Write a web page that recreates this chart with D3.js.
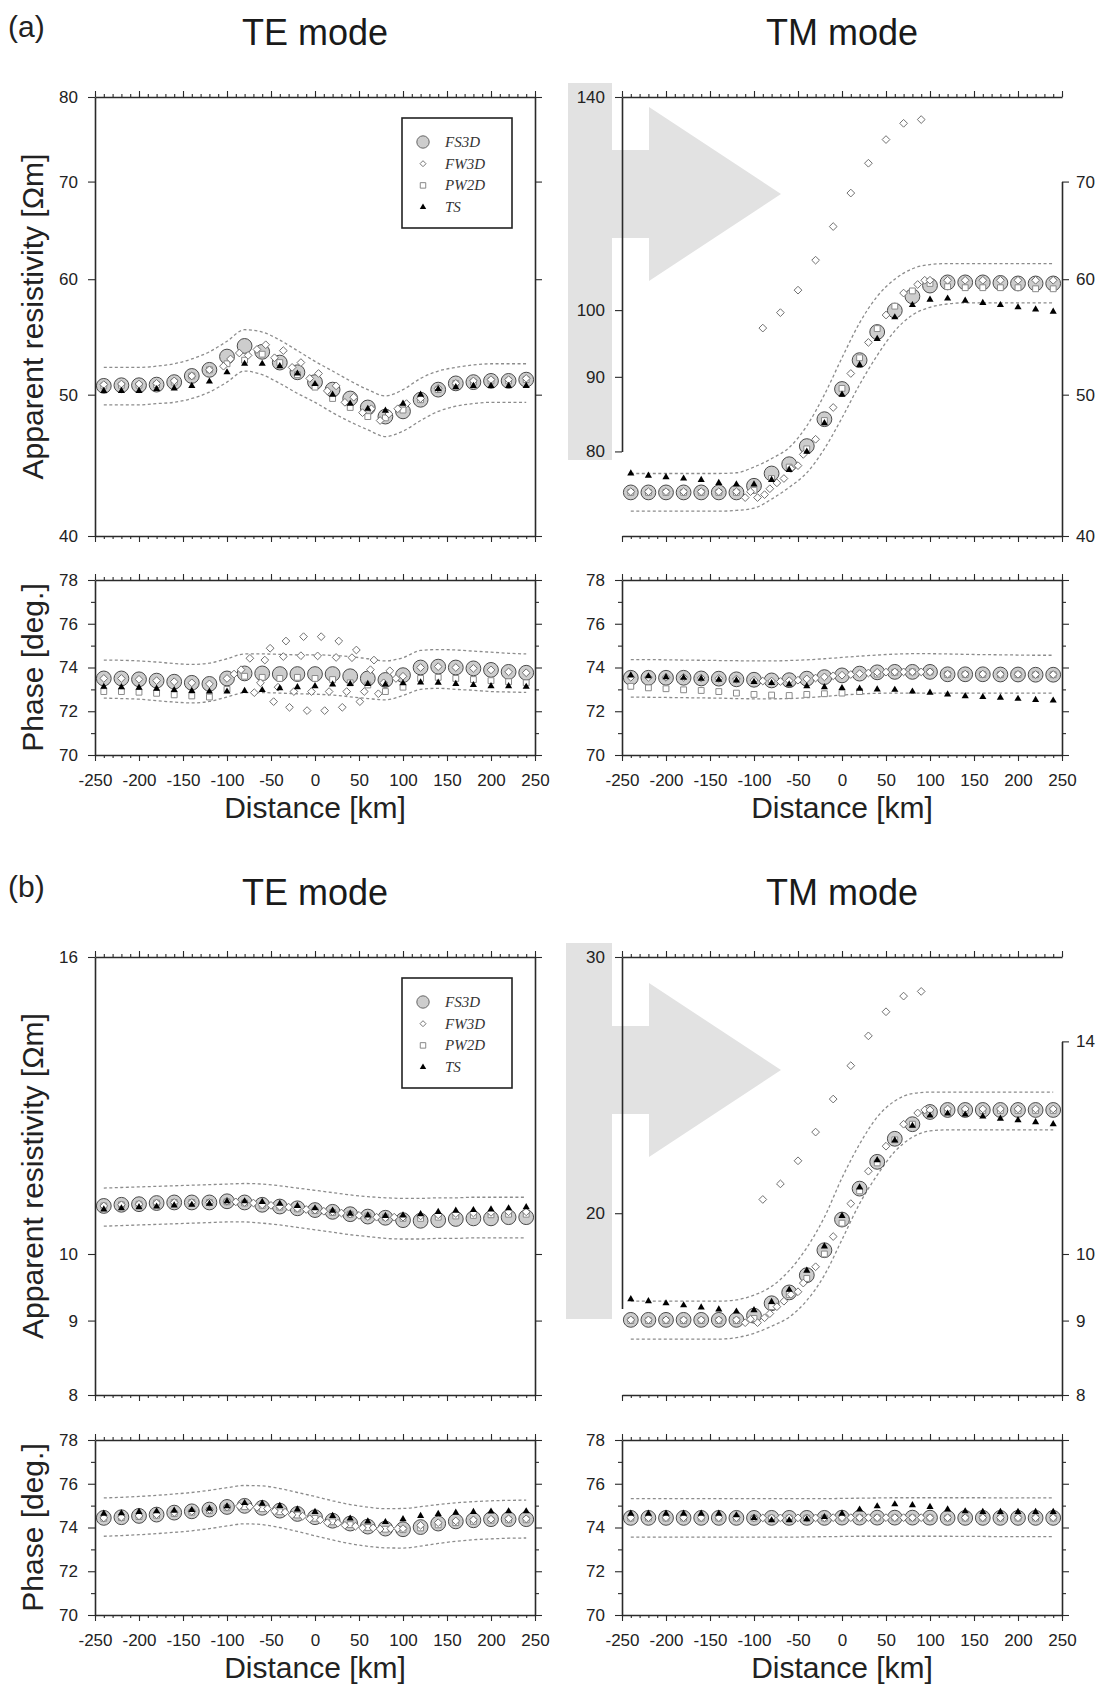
<!DOCTYPE html>
<html>
<head>
<meta charset="utf-8">
<script src="https://cdn.jsdelivr.net/npm/d3@7/dist/d3.min.js"></script>
<style>
  html, body { margin: 0; padding: 0; background: #fff; }
  svg { display: block; }
</style>
</head>
<body>
<svg id="fig" width="1102" height="1687"></svg>
<script>
// site positions along the profile (km)
const sites = [-240, -220, -200, -180, -160, -140, -120, -100, -80, -60, -40, -20, 0, 20, 40, 60, 80, 100, 120, 140, 160, 180, 200, 220, 240];
// sites whose FW3D TM value is read on the grey left axis
const highSites = [-90, -70, -50, -30, -10, 10, 30, 50, 70, 90];
const xMajor = [-250, -200, -150, -100, -50, 0, 50, 100, 150, 200, 250];
const xMinor = d3.range(-250, 251, 10);
const phaseMajor = [70, 72, 74, 76, 78];
const phaseMinor = [71, 73, 75, 77];

// ---------- (a) TE mode ----------
const aTErhoFS3D = [50.7, 50.75, 50.75, 50.8, 51.0, 51.5, 52.0, 53.1, 54.0, 53.5, 52.6, 51.8, 51.0, 50.4, 49.7, 49.0, 48.3, 48.7, 49.6, 50.4, 50.9, 51.0, 51.1, 51.1, 51.2];
const aTErhoPW2D = [50.7, 50.75, 50.75, 50.8, 51.0, 51.5, 52.0, 52.5, 52.8, 53.3, 52.6, 51.6, 50.6, 49.7, 49.0, 48.3, 48.2, 48.8, 49.6, 50.4, 50.9, 51.0, 51.1, 51.1, 51.2];
const aTErhoTS = [50.3, 50.3, 50.3, 50.45, 50.5, 50.7, 51.05, 51.8, 52.5, 52.5, 52.3, 51.7, 50.85, 50.0, 49.3, 48.9, 48.75, 49.3, 50.0, 50.45, 50.6, 50.7, 50.7, 50.7, 50.7];
const aTErhoFW3D = [[-240, 50.8], [-220, 50.85], [-200, 50.85], [-180, 50.9], [-160, 51.1], [-140, 51.5], [-120, 52.0],
  [-104, 52.3], [-96, 52.9], [-86, 53.4], [-76, 53.2], [-66, 53.7], [-56, 54.1], [-46, 53.0], [-36, 53.6], [-26, 52.2], [-16, 52.6],
  [-6, 51.3], [4, 51.7], [14, 50.3], [24, 50.7], [34, 49.4], [44, 49.8], [54, 48.6], [64, 48.9], [74, 48.0], [84, 48.5], [94, 48.9], [104, 49.3],
  [120, 49.7], [140, 50.5], [160, 50.9], [180, 51.1], [200, 51.2], [220, 51.2], [240, 51.3]];
const aTErhoUpper = [52.2, 52.2, 52.2, 52.3, 52.5, 52.9, 53.5, 54.4, 55.4, 55.2, 54.5, 53.6, 52.7, 51.9, 51.1, 50.4, 49.9, 50.4, 51.3, 51.9, 52.2, 52.4, 52.5, 52.5, 52.5];
const aTErhoLower = [49.2, 49.2, 49.2, 49.3, 49.4, 49.7, 50.2, 51.0, 51.9, 51.6, 50.9, 50.1, 49.4, 48.6, 47.9, 47.3, 46.8, 47.2, 48.0, 48.7, 49.1, 49.3, 49.4, 49.4, 49.4];

const aTEphFS3D = [73.5, 73.5, 73.46, 73.4, 73.35, 73.3, 73.25, 73.5, 73.73, 73.73, 73.7, 73.7, 73.7, 73.7, 73.6, 73.5, 73.43, 73.65, 74.0, 74.04, 74.0, 73.96, 73.89, 73.8, 73.76];
const aTEphPW2D = [72.9, 72.9, 72.87, 72.82, 72.75, 72.7, 72.65, 73.0, 73.6, 73.55, 73.5, 73.55, 73.5, 73.45, 73.3, 73.2, 72.9, 73.1, 73.5, 73.55, 73.5, 73.45, 73.4, 73.35, 73.3];
const aTEphTS = [73.12, 73.1, 73.08, 73.03, 72.97, 72.93, 72.9, 72.9, 72.93, 72.97, 73.05, 73.1, 73.15, 73.23, 73.25, 73.25, 73.23, 73.28, 73.32, 73.31, 73.25, 73.2, 73.15, 73.15, 73.12];
const aTEphFW3D = [[-240, 73.5], [-220, 73.5], [-200, 73.46], [-180, 73.4], [-160, 73.35], [-140, 73.3], [-120, 73.25],
  [-100, 73.5], [-92, 73.7], [-84, 73.9], [-74, 74.42], [-69, 72.85], [-62, 73.3], [-57, 74.34], [-51, 74.88], [-47, 72.44], [-42, 73.1],
  [-36, 74.5], [-33, 75.21], [-29, 72.18], [-24, 72.9], [-16, 74.54], [-13, 75.41], [-9, 72.03], [-4, 72.9], [3, 74.53], [7, 75.41],
  [11, 72.03], [16, 72.9], [24, 74.46], [27, 75.21], [31, 72.18], [36, 72.9], [42, 74.45], [47, 74.8], [51, 72.44], [56, 72.9],
  [63, 73.9], [67, 74.34], [72, 72.8], [78, 73.3], [85, 73.85], [92, 73.5], [100, 73.6],
  [120, 74.0], [140, 74.04], [160, 74.0], [180, 73.96], [200, 73.89], [220, 73.8], [240, 73.76]];
const aTEphUpper = [74.34, 74.33, 74.3, 74.25, 74.18, 74.14, 74.2, 74.4, 74.62, 74.62, 74.6, 74.58, 74.58, 74.55, 74.5, 74.4, 74.3, 74.45, 74.78, 74.82, 74.8, 74.75, 74.7, 74.65, 74.62];
const aTEphLower = [72.6, 72.58, 72.55, 72.48, 72.42, 72.38, 72.45, 72.65, 72.85, 72.85, 72.83, 72.8, 72.78, 72.74, 72.66, 72.58, 72.52, 72.72, 73.0, 73.05, 73.0, 72.96, 72.9, 72.88, 72.86];

// ---------- (a) TM mode ----------
const aTMrhoFS3D = [42.85, 42.85, 42.85, 42.85, 42.85, 42.85, 42.85, 43.3, 44.15, 44.8, 46.1, 48.1, 50.45, 52.8, 55.2, 57.1, 58.4, 59.4, 59.7, 59.7, 59.7, 59.65, 59.6, 59.6, 59.6];
const aTMrhoPW2D = [42.85, 42.85, 42.85, 42.85, 42.85, 42.85, 42.85, 43.0, 43.8, 44.6, 45.9, 48.0, 50.5, 53.0, 55.5, 57.5, 58.9, 59.6, 59.3, 59.2, 59.2, 59.2, 59.2, 59.1, 59.1];
const aTMrhoTS = [44.15, 44.0, 43.9, 43.8, 43.7, 43.5, 43.4, 43.4, 43.7, 44.4, 45.7, 47.8, 50.0, 52.4, 54.6, 56.5, 57.6, 58.1, 58.2, 58.0, 57.8, 57.6, 57.4, 57.2, 57.0];
const aTMrhoFW3D = [[-240, 42.9], [-220, 42.9], [-200, 42.9], [-180, 42.9], [-160, 42.9], [-140, 42.9], [-120, 42.9],
  [-110, 42.5], [-104, 42.9], [-96, 42.5], [-88, 42.7], [-82, 43.1], [-74, 43.5], [-66, 43.8], [-58, 44.5], [-50, 44.7], [-44, 45.5],
  [-30, 46.6], [-10, 49.0], [10, 51.7], [30, 54.3], [50, 56.7], [70, 58.7], [86, 59.5], [94, 59.9], [100, 59.9],
  [120, 59.9], [140, 59.9], [160, 59.9], [180, 59.9], [200, 59.9], [220, 59.9], [240, 59.9]];
const aTMrhoFW3Dhigh = [97.2, 99.6, 103.2, 108.2, 114.1, 120.3, 126.1, 130.9, 134.3, 135.1];
const aTMrhoUpper = [44.15, 44.15, 44.15, 44.15, 44.15, 44.15, 44.2, 44.6, 45.2, 46.0, 47.6, 50.0, 53.0, 56.0, 58.4, 60.0, 61.0, 61.4, 61.5, 61.5, 61.5, 61.5, 61.5, 61.5, 61.5];
const aTMrhoLower = [41.6, 41.6, 41.6, 41.6, 41.6, 41.6, 41.65, 41.8, 42.4, 43.2, 44.2, 45.9, 48.2, 50.8, 53.2, 55.3, 56.7, 57.4, 57.7, 57.8, 57.8, 57.8, 57.8, 57.8, 57.8];

const aTMphFS3D = [73.53, 73.53, 73.53, 73.53, 73.5, 73.49, 73.46, 73.44, 73.41, 73.42, 73.49, 73.56, 73.64, 73.72, 73.78, 73.8, 73.8, 73.8, 73.69, 73.69, 73.69, 73.68, 73.68, 73.67, 73.67];
const aTMphPW2D = [73.14, 73.07, 73.03, 72.98, 72.95, 72.9, 72.83, 72.77, 72.74, 72.72, 72.77, 72.8, 72.83, 72.9, 73.7, 73.78, 73.8, 73.8, 73.68, 73.68, 73.68, 73.67, 73.67, 73.67, 73.67];
const aTMphTS = [73.64, 73.6, 73.56, 73.53, 73.49, 73.44, 73.41, 73.34, 73.29, 73.23, 73.15, 73.1, 73.06, 73.03, 73.0, 72.98, 72.9, 72.85, 72.77, 72.69, 72.65, 72.62, 72.57, 72.52, 72.49];
const aTMphFW3D = [[-240, 73.55], [-220, 73.55], [-200, 73.55], [-180, 73.55], [-160, 73.52], [-140, 73.5], [-120, 73.47],
  [-100, 73.42], [-90, 73.38], [-80, 73.38], [-70, 73.36], [-60, 73.4], [-50, 73.42], [-40, 73.48], [-30, 73.52], [-20, 73.57],
  [-10, 73.62], [0, 73.65], [10, 73.68], [20, 73.72], [30, 73.75], [40, 73.78], [50, 73.79], [60, 73.8], [70, 73.8], [80, 73.8],
  [90, 73.8], [100, 73.8], [120, 73.7], [140, 73.7], [160, 73.7], [180, 73.69], [200, 73.69], [220, 73.68], [240, 73.68]];
const aTMphUpper = [74.36, 74.36, 74.35, 74.34, 74.33, 74.32, 74.31, 74.3, 74.3, 74.32, 74.35, 74.4, 74.46, 74.52, 74.57, 74.61, 74.63, 74.63, 74.62, 74.6, 74.59, 74.58, 74.57, 74.56, 74.56];
const aTMphLower = [72.65, 72.64, 72.63, 72.62, 72.61, 72.6, 72.58, 72.57, 72.57, 72.58, 72.62, 72.68, 72.74, 72.79, 72.82, 72.83, 72.83, 72.83, 72.83, 72.83, 72.83, 72.83, 72.83, 72.83, 72.83];

// ---------- (b) TE mode ----------
const bTErhoFS3D = [10.79, 10.81, 10.82, 10.84, 10.85, 10.85, 10.85, 10.87, 10.85, 10.81, 10.78, 10.75, 10.72, 10.69, 10.65, 10.61, 10.59, 10.55, 10.54, 10.55, 10.57, 10.58, 10.58, 10.6, 10.6];
const bTErhoPW2D = [10.79, 10.81, 10.82, 10.84, 10.85, 10.85, 10.85, 10.86, 10.84, 10.8, 10.77, 10.74, 10.71, 10.68, 10.65, 10.62, 10.6, 10.58, 10.58, 10.6, 10.62, 10.63, 10.64, 10.65, 10.65];
const bTErhoTS = [10.73, 10.75, 10.77, 10.78, 10.8, 10.81, 10.83, 10.87, 10.87, 10.86, 10.83, 10.79, 10.75, 10.71, 10.66, 10.63, 10.62, 10.63, 10.65, 10.69, 10.71, 10.72, 10.73, 10.75, 10.77];
const bTErhoFW3D = [[-240, 10.79], [-220, 10.81], [-200, 10.82], [-180, 10.84], [-160, 10.85], [-140, 10.85], [-120, 10.85],
  [-100, 10.87], [-90, 10.86], [-80, 10.85], [-70, 10.84], [-60, 10.81], [-50, 10.8], [-40, 10.78], [-30, 10.77], [-20, 10.75],
  [-10, 10.73], [0, 10.72], [10, 10.7], [20, 10.69], [30, 10.67], [40, 10.65], [50, 10.63], [60, 10.61], [70, 10.6], [80, 10.59],
  [90, 10.6], [100, 10.6], [120, 10.62], [140, 10.64], [160, 10.66], [180, 10.67], [200, 10.68], [220, 10.69], [240, 10.69]];
const bTErhoUpper = [11.1, 11.11, 11.12, 11.13, 11.14, 11.15, 11.16, 11.17, 11.18, 11.17, 11.14, 11.1, 11.06, 11.02, 10.98, 10.95, 10.93, 10.92, 10.92, 10.93, 10.93, 10.94, 10.94, 10.94, 10.94];
const bTErhoLower = [10.45, 10.46, 10.47, 10.48, 10.49, 10.5, 10.51, 10.52, 10.52, 10.5, 10.47, 10.43, 10.39, 10.35, 10.31, 10.28, 10.25, 10.24, 10.24, 10.25, 10.25, 10.26, 10.26, 10.26, 10.26];

const bTEphFS3D = [74.44, 74.47, 74.53, 74.59, 74.68, 74.74, 74.82, 74.94, 74.99, 74.9, 74.77, 74.62, 74.47, 74.31, 74.18, 74.04, 73.95, 73.92, 74.02, 74.18, 74.28, 74.33, 74.38, 74.38, 74.38];
const bTEphPW2D = [74.42, 74.45, 74.5, 74.56, 74.64, 74.7, 74.78, 74.9, 74.95, 74.86, 74.72, 74.57, 74.42, 74.26, 74.13, 74.0, 73.92, 73.9, 73.98, 74.12, 74.22, 74.28, 74.33, 74.35, 74.35];
const bTEphTS = [74.63, 74.65, 74.71, 74.74, 74.77, 74.8, 74.86, 74.97, 75.12, 75.09, 74.99, 74.83, 74.71, 74.53, 74.41, 74.28, 74.25, 74.38, 74.53, 74.62, 74.68, 74.71, 74.73, 74.74, 74.74];
const bTEphFW3D = [[-240, 74.44], [-220, 74.47], [-200, 74.53], [-180, 74.59], [-160, 74.68], [-140, 74.74], [-120, 74.82],
  [-100, 74.94], [-86, 74.98], [-74, 74.95], [-66, 74.92], [-54, 74.86], [-46, 74.75], [-34, 74.7], [-26, 74.58], [-14, 74.52],
  [-6, 74.4], [6, 74.35], [14, 74.22], [26, 74.2], [34, 74.1], [46, 74.06], [54, 73.98], [66, 73.98], [74, 73.93], [86, 73.95],
  [94, 73.95], [100, 73.95], [120, 74.1], [140, 74.22], [160, 74.3], [180, 74.35], [200, 74.38], [220, 74.4], [240, 74.4]];
const bTEphUpper = [75.35, 75.38, 75.42, 75.47, 75.53, 75.6, 75.7, 75.82, 75.92, 75.9, 75.78, 75.6, 75.42, 75.22, 75.05, 74.93, 74.86, 74.87, 74.95, 75.05, 75.13, 75.18, 75.22, 75.24, 75.25];
const bTEphLower = [73.6, 73.63, 73.67, 73.72, 73.78, 73.85, 73.95, 74.07, 74.17, 74.13, 74.0, 73.82, 73.62, 73.43, 73.26, 73.14, 73.07, 73.06, 73.15, 73.27, 73.37, 73.44, 73.48, 73.51, 73.52];

// ---------- (b) TM mode ----------
const bTMrhoFS3D = [9.01, 9.01, 9.01, 9.01, 9.01, 9.01, 9.01, 9.07, 9.25, 9.41, 9.67, 10.06, 10.56, 11.09, 11.57, 12.0, 12.28, 12.52, 12.56, 12.56, 12.56, 12.56, 12.56, 12.56, 12.56];
const bTMrhoPW2D = [9.0, 9.0, 9.0, 9.0, 9.0, 9.0, 9.0, 9.03, 9.2, 9.38, 9.62, 10.0, 10.5, 11.05, 11.55, 11.98, 12.28, 12.5, 12.55, 12.55, 12.55, 12.55, 12.55, 12.55, 12.55];
const bTMrhoTS = [9.31, 9.28, 9.25, 9.22, 9.19, 9.16, 9.13, 9.15, 9.27, 9.45, 9.74, 10.12, 10.62, 11.11, 11.6, 11.97, 12.25, 12.45, 12.49, 12.47, 12.43, 12.39, 12.36, 12.32, 12.28];
const bTMrhoFW3D = [[-240, 9.01], [-220, 9.01], [-200, 9.01], [-180, 9.01], [-160, 9.01], [-140, 9.01], [-120, 9.01],
  [-110, 8.97], [-104, 9.02], [-96, 8.97], [-88, 9.04], [-82, 9.1], [-74, 9.2], [-66, 9.28], [-58, 9.38], [-50, 9.42], [-44, 9.55],
  [-30, 9.8], [-10, 10.28], [10, 10.83], [30, 11.4], [50, 11.86], [70, 12.28], [86, 12.5], [94, 12.56], [100, 12.56],
  [120, 12.58], [140, 12.58], [160, 12.58], [180, 12.58], [200, 12.58], [220, 12.58], [240, 12.58]];
const bTMrhoFW3Dhigh = [20.44, 20.95, 21.73, 22.74, 23.96, 25.26, 26.48, 27.51, 28.2, 28.41];
const bTMrhoUpper = [9.28, 9.28, 9.28, 9.28, 9.28, 9.28, 9.3, 9.37, 9.5, 9.74, 10.1, 10.6, 11.28, 11.9, 12.42, 12.74, 12.89, 12.92, 12.92, 12.92, 12.92, 12.92, 12.92, 12.92, 12.92];
const bTMrhoLower = [8.74, 8.74, 8.74, 8.74, 8.74, 8.74, 8.76, 8.82, 8.92, 9.05, 9.29, 9.67, 10.23, 10.83, 11.33, 11.76, 12.03, 12.15, 12.17, 12.17, 12.17, 12.17, 12.17, 12.17, 12.17];

const bTMphFS3D = [74.44, 74.44, 74.44, 74.44, 74.44, 74.44, 74.44, 74.44, 74.44, 74.44, 74.44, 74.44, 74.45, 74.45, 74.45, 74.45, 74.45, 74.45, 74.44, 74.44, 74.44, 74.44, 74.44, 74.44, 74.44];
const bTMphPW2D = [74.43, 74.43, 74.43, 74.43, 74.43, 74.43, 74.43, 74.43, 74.43, 74.43, 74.43, 74.43, 74.44, 74.44, 74.44, 74.44, 74.44, 74.44, 74.43, 74.43, 74.43, 74.43, 74.43, 74.43, 74.43];
const bTMphTS = [74.63, 74.63, 74.63, 74.63, 74.63, 74.63, 74.56, 74.44, 74.33, 74.33, 74.38, 74.48, 74.63, 74.82, 74.97, 75.06, 75.02, 74.94, 74.83, 74.74, 74.71, 74.71, 74.71, 74.71, 74.71];
const bTMphFW3D = [[-240, 74.45], [-220, 74.45], [-200, 74.45], [-180, 74.45], [-160, 74.45], [-140, 74.45], [-120, 74.45],
  [-100, 74.44], [-90, 74.44], [-80, 74.44], [-70, 74.44], [-60, 74.44], [-50, 74.44], [-40, 74.44], [-30, 74.44], [-20, 74.44],
  [-10, 74.45], [0, 74.45], [10, 74.45], [20, 74.45], [30, 74.45], [40, 74.45], [50, 74.45], [60, 74.45], [70, 74.45], [80, 74.45],
  [90, 74.45], [100, 74.45], [120, 74.45], [140, 74.45], [160, 74.45], [180, 74.45], [200, 74.45], [220, 74.45], [240, 74.45]];
const bTMphUpper = [75.32, 75.32, 75.32, 75.32, 75.32, 75.32, 75.32, 75.32, 75.32, 75.32, 75.32, 75.32, 75.33, 75.34, 75.35, 75.36, 75.36, 75.36, 75.36, 75.36, 75.36, 75.35, 75.35, 75.35, 75.35];
const bTMphLower = [73.56, 73.56, 73.56, 73.56, 73.56, 73.56, 73.56, 73.56, 73.56, 73.56, 73.57, 73.58, 73.59, 73.6, 73.6, 73.6, 73.6, 73.6, 73.6, 73.59, 73.59, 73.58, 73.58, 73.58, 73.58];

const legendNames = ["FS3D", "FW3D", "PW2D", "TS"];

// ---------- drawing ----------
const svg = d3.select("#fig");
const FONT = "'Liberation Sans', Arial, Helvetica, sans-serif";
const INK = "#2a2a2a";
const GREY = "#e2e2e2";

const teLeft = 95, teRight = 535, tmLeft = 622, tmRight = 1062;

const diamond = {
  draw(ctx, size) {
    const r = Math.sqrt(size / 2);
    ctx.moveTo(0, -r); ctx.lineTo(r, 0); ctx.lineTo(0, r); ctx.lineTo(-r, 0); ctx.closePath();
  }
};
const symFS = d3.symbol(d3.symbolCircle, 172)();
const symFW = d3.symbol(diamond, 30)();
const symPW = d3.symbol(d3.symbolSquare, 34)();
const symTS = d3.symbol(d3.symbolTriangle, 22)();

function zip(xs, ys) {
  return xs.map((x, i) => [x, ys[i]]);
}

function styleAxis(a, keepDomain) {
  if (keepDomain) a.select(".domain").attr("stroke", INK).attr("stroke-width", 1.6);
  else a.select(".domain").remove();
  a.selectAll(".tick line").attr("stroke", INK).attr("stroke-width", 1.1);
  a.selectAll(".tick text").attr("fill", "#222").attr("font-size", 17).attr("font-family", FONT);
  return a;
}

function addAxis(g, gen, tx, ty, keepDomain) {
  const a = g.append("g").attr("transform", `translate(${tx},${ty})`).call(gen);
  return styleAxis(a, keepDomain);
}

const noLabel = () => "";

// top and bottom distance axes (major every 50 km, minor every 10 km)
function xAxes(g, x, yTop, yBot, labels) {
  addAxis(g, d3.axisTop(x).tickValues(xMajor).tickSize(6).tickSizeOuter(0).tickFormat(noLabel), 0, yTop, true);
  addAxis(g, d3.axisTop(x).tickValues(xMinor).tickSize(3).tickFormat(noLabel), 0, yTop, false);
  addAxis(g, d3.axisBottom(x).tickValues(xMajor).tickSize(6).tickSizeOuter(0).tickPadding(13)
    .tickFormat(labels ? d => d : noLabel), 0, yBot, true);
  addAxis(g, d3.axisBottom(x).tickValues(xMinor).tickSize(3).tickFormat(noLabel), 0, yBot, false);
}

function drawSeries(g, x, y, s, yHigh) {
  const line = d3.line().x(d => x(d[0])).y(d => y(d[1])).curve(d3.curveMonotoneX);
  [s.upper, s.lower].forEach(vals => {
    g.append("path").datum(zip(sites, vals)).attr("d", line)
      .attr("fill", "none").attr("stroke", "#8c8c8c").attr("stroke-width", 1.3).attr("stroke-dasharray", "3,2.5");
  });
  g.append("g").selectAll("path").data(zip(sites, s.fs3d)).join("path")
    .attr("transform", d => `translate(${x(d[0])},${y(d[1])})`).attr("d", symFS)
    .attr("fill", "#cdcdcd").attr("stroke", "#4a4a4a").attr("stroke-width", 1);
  g.append("g").selectAll("path").data(zip(sites, s.pw2d)).join("path")
    .attr("transform", d => `translate(${x(d[0])},${y(d[1])})`).attr("d", symPW)
    .attr("fill", "#fff").attr("stroke", "#8a8a8a").attr("stroke-width", 1);
  g.append("g").selectAll("path").data(s.fw3d).join("path")
    .attr("transform", d => `translate(${x(d[0])},${y(d[1])})`).attr("d", symFW)
    .attr("fill", "#fff").attr("stroke", "#707070").attr("stroke-width", 1);
  if (s.high) {
    g.append("g").selectAll("path").data(zip(highSites, s.high)).join("path")
      .attr("transform", d => `translate(${x(d[0])},${yHigh(d[1])})`).attr("d", symFW)
      .attr("fill", "#fff").attr("stroke", "#707070").attr("stroke-width", 1);
  }
  g.append("g").selectAll("path").data(zip(sites, s.ts)).join("path")
    .attr("transform", d => `translate(${x(d[0])},${y(d[1])})`).attr("d", symTS)
    .attr("fill", "#000");
}

function legend(g, x0, y0) {
  g.append("rect").attr("x", x0).attr("y", y0).attr("width", 110).attr("height", 110)
    .attr("fill", "#fff").attr("stroke", "#222").attr("stroke-width", 1.6);
  const syms = [d3.symbol(d3.symbolCircle, 120)(), d3.symbol(diamond, 18)(), d3.symbol(d3.symbolSquare, 30)(), d3.symbol(d3.symbolTriangle, 18)()];
  const fills = ["#cdcdcd", "#fff", "#fff", "#000"];
  const strokes = ["#666", "#777", "#888", "none"];
  legendNames.forEach((name, i) => {
    const yy = y0 + 24 + i * 21.7;
    g.append("path").attr("d", syms[i]).attr("transform", `translate(${x0 + 21},${yy})`)
      .attr("fill", fills[i]).attr("stroke", strokes[i]).attr("stroke-width", 1);
    g.append("text").attr("x", x0 + 43).attr("y", yy + 5).text(name)
      .attr("font-family", "'Liberation Serif', 'Times New Roman', serif").attr("font-style", "italic")
      .attr("font-size", 15).attr("fill", "#333");
  });
}

function yTitle(g, text, cy) {
  g.append("text").attr("transform", `translate(43,${cy}) rotate(-90)`).attr("text-anchor", "middle")
    .attr("font-family", FONT).attr("font-size", 30).attr("fill", "#222").text(text);
}

function drawRow(r) {
  const g = svg.append("g");
  const xTE = d3.scaleLinear([-250, 250], [teLeft, teRight]);
  const xTM = d3.scaleLinear([-250, 250], [tmLeft, tmRight]);
  const yRho = d3.scaleLog(r.rhoDomain, [r.rhoBot, r.rhoTop]);
  const yRhoLeft = d3.scaleLog(r.tmLeftDomain, [r.rhoBot, r.rhoTop]);
  const yPh = d3.scaleLinear([70, 78], [r.phBot, r.phTop]);

  // headings
  g.append("text").attr("x", 8).attr("y", r.rhoTop - 60).text(r.tag)
    .attr("font-family", FONT).attr("font-size", 30).attr("fill", "#222");
  [[xTE, "TE mode"], [xTM, "TM mode"]].forEach(([x, t]) => {
    g.append("text").attr("x", x(0)).attr("y", r.rhoTop - 52).attr("text-anchor", "middle").text(t)
      .attr("font-family", FONT).attr("font-size", 36).attr("fill", "#1a1a1a");
  });

  // ---- TE resistivity ----
  const gTE = g.append("g");
  drawSeries(gTE, xTE, yRho, r.teRho);
  xAxes(gTE, xTE, r.rhoTop, r.rhoBot, false);
  addAxis(gTE, d3.axisLeft(yRho).tickValues(r.rhoTicks).tickSize(7).tickSizeOuter(0).tickPadding(10).tickFormat(d => d), teLeft, 0, true);
  addAxis(gTE, d3.axisRight(yRho).tickValues(r.rhoTicks).tickSize(7).tickSizeOuter(0).tickFormat(noLabel), teRight, 0, true);
  legend(gTE, 402, r.rhoTop + 21);
  yTitle(g, "Apparent resistivity [\u03a9m]", (r.rhoTop + r.rhoBot) / 2);

  // ---- TM resistivity ----
  const gTM = g.append("g");
  gTM.append("rect").attr("x", r.bar[0]).attr("y", r.bar[1]).attr("width", r.bar[2]).attr("height", r.bar[3]).attr("fill", GREY);
  const ty = r.arrowY, x0 = r.bar[0] + r.bar[2];
  gTM.append("path").attr("fill", GREY)
    .attr("d", `M${x0},${ty - 44}H649V${ty - 87}L781,${ty}L649,${ty + 87}V${ty + 44}H${x0}Z`);
  drawSeries(gTM, xTM, yRho, r.tmRho, yRhoLeft);
  xAxes(gTM, xTM, r.rhoTop, r.rhoBot, false);
  const leftPart = d3.scaleLog(r.tmLeftAxis, [yRhoLeft(r.tmLeftAxis[0]), yRhoLeft(r.tmLeftAxis[1])]);
  addAxis(gTM, d3.axisLeft(leftPart).tickValues(r.tmLeftTicks).tickSize(7).tickSizeOuter(0).tickPadding(10).tickFormat(d => d), tmLeft, 0, true);
  const rightPart = d3.scaleLog(r.tmRightAxis, [yRho(r.tmRightAxis[0]), yRho(r.tmRightAxis[1])]);
  addAxis(gTM, d3.axisRight(rightPart).tickValues(r.tmRightTicks).tickSize(7).tickSizeOuter(0).tickPadding(7).tickFormat(d => d), tmRight, 0, true);

  // ---- phases ----
  [[xTE, r.tePh, teLeft, teRight], [xTM, r.tmPh, tmLeft, tmRight]].forEach(([x, s, l, rr]) => {
    const gp = g.append("g");
    drawSeries(gp, x, yPh, s);
    xAxes(gp, x, r.phTop, r.phBot, true);
    addAxis(gp, d3.axisLeft(yPh).tickValues(phaseMajor).tickSize(7).tickSizeOuter(0).tickPadding(10).tickFormat(d => d), l, 0, true);
    addAxis(gp, d3.axisLeft(yPh).tickValues(phaseMinor).tickSize(4).tickFormat(noLabel), l, 0, false);
    addAxis(gp, d3.axisRight(yPh).tickValues(phaseMajor).tickSize(7).tickSizeOuter(0).tickFormat(noLabel), rr, 0, true);
    addAxis(gp, d3.axisRight(yPh).tickValues(phaseMinor).tickSize(4).tickFormat(noLabel), rr, 0, false);
    gp.append("text").attr("x", x(0)).attr("y", r.phBot + 63).attr("text-anchor", "middle").text("Distance [km]")
      .attr("font-family", FONT).attr("font-size", 30).attr("fill", "#222");
  });
  yTitle(g, "Phase [deg.]", (r.phTop + r.phBot) / 2);
}

drawRow({
  tag: "(a)", rhoTop: 97, rhoBot: 536, phTop: 580, phBot: 755,
  rhoDomain: [40, 80], rhoTicks: [40, 50, 60, 70, 80],
  tmLeftDomain: [70, 140], tmLeftAxis: [80, 140], tmLeftTicks: [80, 90, 100, 140],
  tmRightAxis: [40, 70], tmRightTicks: [40, 50, 60, 70],
  bar: [568, 83, 44, 377], arrowY: 194,
  teRho: { fs3d: aTErhoFS3D, pw2d: aTErhoPW2D, ts: aTErhoTS, fw3d: aTErhoFW3D, upper: aTErhoUpper, lower: aTErhoLower },
  tmRho: { fs3d: aTMrhoFS3D, pw2d: aTMrhoPW2D, ts: aTMrhoTS, fw3d: aTMrhoFW3D, high: aTMrhoFW3Dhigh, upper: aTMrhoUpper, lower: aTMrhoLower },
  tePh: { fs3d: aTEphFS3D, pw2d: aTEphPW2D, ts: aTEphTS, fw3d: aTEphFW3D, upper: aTEphUpper, lower: aTEphLower },
  tmPh: { fs3d: aTMphFS3D, pw2d: aTMphPW2D, ts: aTMphTS, fw3d: aTMphFW3D, upper: aTMphUpper, lower: aTMphLower }
});

drawRow({
  tag: "(b)", rhoTop: 957, rhoBot: 1395, phTop: 1440, phBot: 1615,
  rhoDomain: [8, 16], rhoTicks: [8, 9, 10, 16],
  tmLeftDomain: [15, 30], tmLeftAxis: [17.2, 30], tmLeftTicks: [20, 30],
  tmRightAxis: [8, 14], tmRightTicks: [8, 9, 10, 14],
  bar: [566, 943, 46, 376], arrowY: 1070,
  teRho: { fs3d: bTErhoFS3D, pw2d: bTErhoPW2D, ts: bTErhoTS, fw3d: bTErhoFW3D, upper: bTErhoUpper, lower: bTErhoLower },
  tmRho: { fs3d: bTMrhoFS3D, pw2d: bTMrhoPW2D, ts: bTMrhoTS, fw3d: bTMrhoFW3D, high: bTMrhoFW3Dhigh, upper: bTMrhoUpper, lower: bTMrhoLower },
  tePh: { fs3d: bTEphFS3D, pw2d: bTEphPW2D, ts: bTEphTS, fw3d: bTEphFW3D, upper: bTEphUpper, lower: bTEphLower },
  tmPh: { fs3d: bTMphFS3D, pw2d: bTMphPW2D, ts: bTMphTS, fw3d: bTMphFW3D, upper: bTMphUpper, lower: bTMphLower }
});
</script>
</body>
</html>
